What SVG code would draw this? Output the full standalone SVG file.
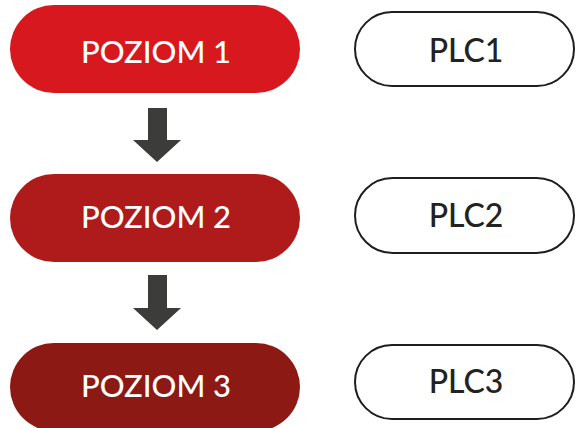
<svg xmlns="http://www.w3.org/2000/svg" width="576" height="428" viewBox="0 0 576 428">
<style>
.lvl text{font-family:"Lato","Liberation Sans",sans-serif;font-size:31px;fill:#fff;text-anchor:middle;font-weight:500}
.plc rect{fill:#fff;stroke:#1e1e1e;stroke-width:2}
.plc text{font-family:"Lato","Liberation Sans",sans-serif;font-size:32px;fill:#222;text-anchor:middle;font-weight:500}
.arr{fill:#3c3c3a}
</style>
<rect width="576" height="428" fill="#fff"/>
<g id="poziom1" class="lvl"><rect x="10" y="5" width="290" height="88" rx="44" fill="#d7181e"/><text x="156" y="63">POZIOM 1</text></g>
<g id="poziom2" class="lvl"><rect x="10" y="174" width="290" height="88" rx="44" fill="#af1b1b"/><text x="156" y="228">POZIOM 2</text></g>
<g id="poziom3" class="lvl"><rect x="10" y="343" width="290" height="88" rx="44" fill="#8c1913"/><text x="156" y="397">POZIOM 3</text></g>
<g id="plc1" class="plc"><rect x="355" y="12" width="219" height="74" rx="37"/><text x="466" y="62">PLC1</text></g>
<g id="plc2" class="plc"><rect x="355" y="178" width="219" height="75" rx="37.5"/><text x="466" y="227">PLC2</text></g>
<g id="plc3" class="plc"><rect x="355" y="345" width="219" height="74" rx="37"/><text x="466" y="393">PLC3</text></g>
<g id="connectors">
<polygon class="arr" points="148,108 167,108 167,140 181,140 157,162 133,140 148,140"/>
<polygon class="arr" points="148,275 167,275 167,308 181,308 157,330 133,308 148,308"/>
</g>
</svg>
